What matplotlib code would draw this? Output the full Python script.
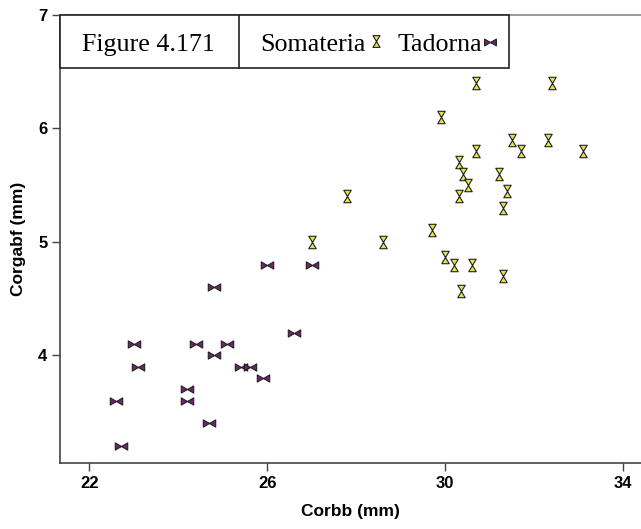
import matplotlib
matplotlib.use("Agg")
import matplotlib.pyplot as plt
from matplotlib.path import Path
from matplotlib.patches import Rectangle
from matplotlib.lines import Line2D

# ---- data ----
tadorna_x = [22.6, 22.7, 23.0, 23.1, 24.2, 24.2, 24.4, 24.7, 24.8, 24.8, 25.1, 25.4, 25.6, 25.9, 26.0, 26.6, 27.0]
tadorna_y = [3.6, 3.2, 4.1, 3.9, 3.7, 3.6, 4.1, 3.4, 4.6, 4.0, 4.1, 3.9, 3.9, 3.8, 4.8, 4.2, 4.8]

somateria_x = [27.0, 27.8, 28.6, 29.7, 29.9, 30.0, 30.2, 30.3, 30.3, 30.36, 30.4, 30.5, 30.6, 30.7, 30.7,
               31.2, 31.3, 31.3, 31.38, 31.5, 31.7, 32.3, 32.4, 33.1]
somateria_y = [5.0, 5.4, 5.0, 5.1, 6.1, 4.87, 4.8, 5.7, 5.4, 4.57, 5.6, 5.5, 4.8, 6.4, 5.8,
               5.6, 5.3, 4.7, 5.45, 5.9, 5.8, 5.9, 6.4, 5.8]

x_ticks = [22, 26, 30, 34]
y_ticks = [4, 5, 6, 7]
x_label = "Corbb (mm)"
y_label = "Corgabf (mm)"
legend_title = "Figure 4.171"
series_names = ["Somateria", "Tadorna"]

# ---- markers ----
bowtie = Path([(-1, -0.58), (1, 0.58), (1, -0.58), (-1, 0.58), (-1, -0.58)],
              [Path.MOVETO, Path.LINETO, Path.LINETO, Path.LINETO, Path.CLOSEPOLY])
hourglass = Path([(-0.6, 1), (0.6, 1), (-0.6, -1), (0.6, -1), (-0.6, 1)],
                 [Path.MOVETO, Path.LINETO, Path.LINETO, Path.LINETO, Path.CLOSEPOLY])

yellow = "#e3e34a"
purple = "#6e2270"
edge = "#222222"

W, H = 641, 529
fig = plt.figure(figsize=(W / 100, H / 100), dpi=100)
ax_top, ax_bot, ax_left = 15, 463, 60
ax = fig.add_axes([ax_left / W, (H - ax_bot) / H, (W - ax_left) / W, (ax_bot - ax_top) / H])

ax.scatter(tadorna_x, tadorna_y, marker=bowtie, s=80, facecolor=purple, edgecolor=edge, linewidths=0.8, zorder=3)
ax.scatter(somateria_x, somateria_y, marker=hourglass, s=80, facecolor=yellow, edgecolor=edge, linewidths=0.8, zorder=3)

ax.set_xlim(21.34, 34.4)
ax.set_ylim(3.05, 7.0)
ax.set_xticks(x_ticks)
ax.set_yticks(y_ticks)
ax.set_xticklabels([str(t) for t in x_ticks])
ax.set_yticklabels([str(t) for t in y_ticks])

ax.spines["right"].set_visible(False)
ax.spines["left"].set_color("#444444")
ax.spines["bottom"].set_color("#444444")
ax.spines["top"].set_color("#888888")
for s in ["left", "bottom", "top"]:
    ax.spines[s].set_linewidth(1.2)

ax.tick_params(direction="out", length=6, width=1, color="#444444", pad=3)
for lab in ax.get_xticklabels() + ax.get_yticklabels():
    lab.set_fontfamily("Liberation Sans")
    lab.set_fontweight("bold")
    lab.set_fontsize(12)

ax.set_xlabel(x_label, fontfamily="Liberation Sans", fontweight="bold", fontsize=12.5, labelpad=10)
ax.set_ylabel(y_label, fontfamily="Liberation Sans", fontweight="bold", fontsize=12.5, labelpad=9)

# ---- legend box (figure pixel coordinates, origin top-left) ----
def fx(px):
    return px / W

def fy(py):
    return (H - py) / H

box_top, box_bot, box_left, box_right, divider = 15, 68, 60, 509, 239
fig.patches.append(Rectangle((fx(box_left), fy(box_bot)), fx(box_right) - fx(box_left), fy(box_top) - fy(box_bot),
                             transform=fig.transFigure, facecolor="white", edgecolor="#222222", linewidth=1.2, zorder=5))
fig.lines.append(Line2D([fx(divider), fx(divider)], [fy(box_bot), fy(box_top)], transform=fig.transFigure,
                        color="#222222", linewidth=1.2, zorder=6))
base = fy(51)
fig.text(fx(82), base, legend_title, fontfamily="Liberation Serif", fontsize=18.7, ha="left", va="baseline", zorder=7)
fig.text(fx(260), base, series_names[0], fontfamily="Liberation Serif", fontsize=18.7, ha="left", va="baseline", zorder=7)
fig.text(fx(397), base, series_names[1], fontfamily="Liberation Serif", fontsize=18.7, ha="left", va="baseline", zorder=7)
fig.lines.append(Line2D([fx(376)], [fy(41)], transform=fig.transFigure, marker=hourglass, markersize=8.5,
                        markerfacecolor=yellow, markeredgecolor=edge, markeredgewidth=0.8, linestyle="none", zorder=8))
fig.lines.append(Line2D([fx(490)], [fy(42)], transform=fig.transFigure, marker=bowtie, markersize=8.5,
                        markerfacecolor=purple, markeredgecolor=edge, markeredgewidth=0.8, linestyle="none", zorder=8))

fig.savefig("out.png", dpi=100)
